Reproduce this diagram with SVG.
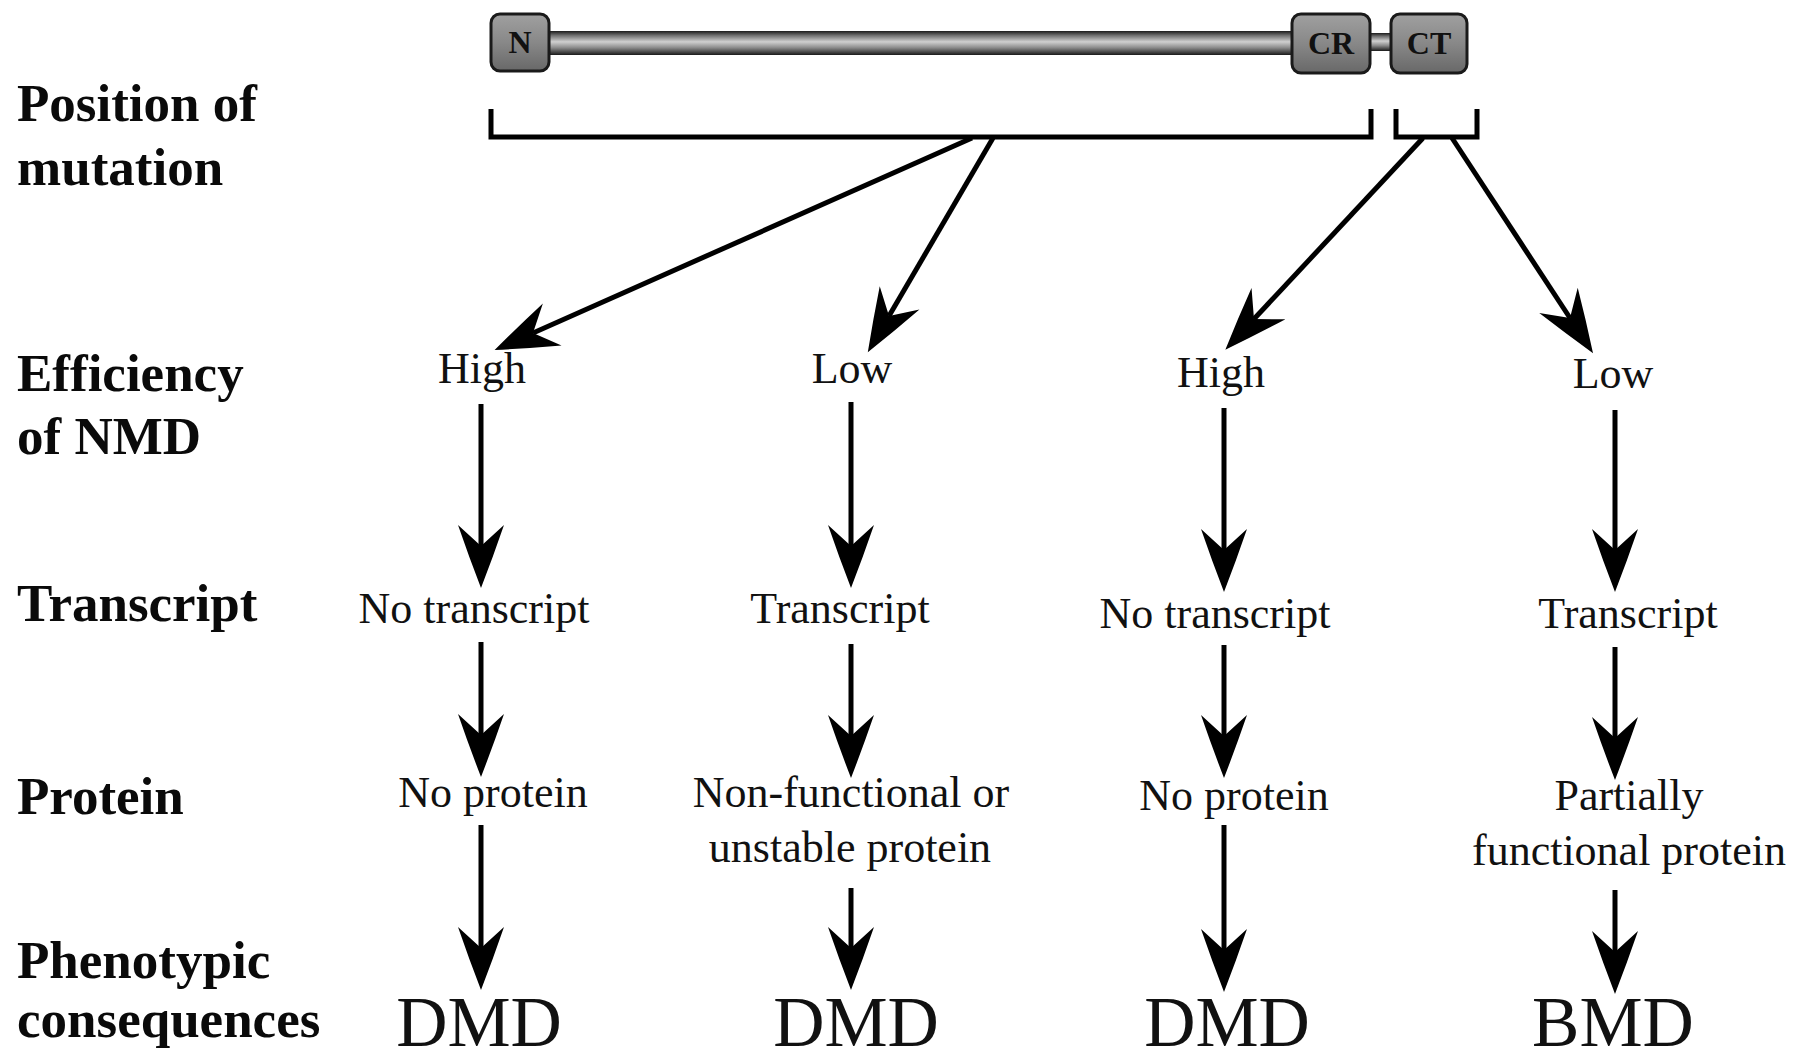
<svg xmlns="http://www.w3.org/2000/svg" width="1800" height="1059" viewBox="0 0 1800 1059">
<defs>
<linearGradient id="tube" x1="0" y1="0" x2="0" y2="1">
<stop offset="0" stop-color="#1a1a1a"/>
<stop offset="0.18" stop-color="#6e6e6e"/>
<stop offset="0.45" stop-color="#d0d0d0"/>
<stop offset="0.7" stop-color="#8a8a8a"/>
<stop offset="1" stop-color="#1a1a1a"/>
</linearGradient>
<linearGradient id="box" x1="0" y1="0" x2="0" y2="1">
<stop offset="0" stop-color="#a0a0a0"/>
<stop offset="0.5" stop-color="#888"/>
<stop offset="1" stop-color="#686868"/>
</linearGradient>
<marker id="ah" markerUnits="userSpaceOnUse" markerWidth="64" markerHeight="48" viewBox="0 0 64 48" refX="21" refY="24" orient="auto">
<path d="M63,24 Q32,12 0,1 L21,24 L0,47 Q32,36 63,24 Z" fill="#000"/>
</marker>
</defs>
<style>
.lab{font-family:"Liberation Serif","Times New Roman",serif;font-weight:bold;font-size:53px;fill:#0a0a0a}
.t{font-family:"Liberation Serif","Times New Roman",serif;font-size:44px;fill:#111;text-anchor:middle}
.big{font-family:"Liberation Serif","Times New Roman",serif;font-size:71px;fill:#111;text-anchor:middle}
.dom{fill:url(#box);stroke:#1a1a1a;stroke-width:3}
.domt{font-family:"Liberation Serif","Times New Roman",serif;font-weight:bold;font-size:32px;fill:#111;text-anchor:middle}
.br{fill:none;stroke:#000;stroke-width:5}
.ar{fill:none;stroke:#000;stroke-width:5;marker-end:url(#ah)}
</style>
<rect width="1800" height="1059" fill="#fff"/>

<g id="protein-bar">
<rect x="545" y="31" width="752" height="24" fill="url(#tube)"/>
<rect x="1366" y="33" width="28" height="18" fill="url(#tube)"/>
<g id="domain-N"><rect class="dom" x="491" y="14" width="58" height="57" rx="9"/><text class="domt" x="520" y="53">N</text></g>
<g id="domain-CR"><rect class="dom" x="1292" y="14" width="78" height="59" rx="9"/><text class="domt" x="1331" y="54">CR</text></g>
<g id="domain-CT"><rect class="dom" x="1391" y="14" width="76" height="59" rx="9"/><text class="domt" x="1429" y="54">CT</text></g>
</g>

<g id="row-labels">
<text class="lab" x="17" y="121">Position of</text>
<text class="lab" x="17" y="185">mutation</text>
<text class="lab" x="17" y="391">Efficiency</text>
<text class="lab" x="17" y="454">of NMD</text>
<text class="lab" x="17" y="621">Transcript</text>
<text class="lab" x="17" y="814">Protein</text>
<text class="lab" x="17" y="978">Phenotypic</text>
<text class="lab" x="17" y="1037">consequences</text>
</g>

<g id="bracket-main"><path class="br" d="M491,109 V137 H1371 V109"/></g>
<g id="bracket-ct"><path class="br" d="M1396,109 V137 H1477 V109"/></g>

<g id="col1">
<g id="n-high1"><text class="t" x="482" y="383">High</text></g>
<g id="n-notx1"><text class="t" x="474" y="623">No transcript</text></g>
<g id="n-noprot1"><text class="t" x="493" y="807">No protein</text></g>
<g id="n-dmd1"><text class="big" x="479" y="1046">DMD</text></g>
</g>
<g id="col2">
<g id="n-low2"><text class="t" x="852" y="383">Low</text></g>
<g id="n-tx2"><text class="t" x="840" y="623">Transcript</text></g>
<g id="n-nonfunc2"><text class="t" x="851" y="807">Non-functional or</text><text class="t" x="850" y="862">unstable protein</text></g>
<g id="n-dmd2"><text class="big" x="856" y="1046">DMD</text></g>
</g>
<g id="col3">
<g id="n-high3"><text class="t" x="1221" y="387">High</text></g>
<g id="n-notx3"><text class="t" x="1215" y="628">No transcript</text></g>
<g id="n-noprot3"><text class="t" x="1234" y="810">No protein</text></g>
<g id="n-dmd3"><text class="big" x="1227" y="1046">DMD</text></g>
</g>
<g id="col4">
<g id="n-low4"><text class="t" x="1613" y="388">Low</text></g>
<g id="n-tx4"><text class="t" x="1628" y="628">Transcript</text></g>
<g id="n-partial4"><text class="t" x="1629" y="810">Partially</text><text class="t" x="1629" y="865">functional protein</text></g>
<g id="n-bmd4"><text class="big" x="1613" y="1046">BMD</text></g>
</g>

<g id="connectors">
<line class="ar" x1="972" y1="138" x2="533" y2="333"/>
<line class="ar" x1="993" y1="138" x2="889" y2="316"/>
<line class="ar" x1="1423" y1="138" x2="1254" y2="319"/>
<line class="ar" x1="1452" y1="138" x2="1570" y2="318"/>

<line class="ar" x1="481" y1="404" x2="481" y2="546"/>
<line class="ar" x1="851" y1="402" x2="851" y2="546"/>
<line class="ar" x1="1224" y1="408" x2="1224" y2="550"/>
<line class="ar" x1="1615" y1="410" x2="1615" y2="550"/>

<line class="ar" x1="481" y1="642" x2="481" y2="735"/>
<line class="ar" x1="851" y1="644" x2="851" y2="736"/>
<line class="ar" x1="1224" y1="645" x2="1224" y2="736"/>
<line class="ar" x1="1615" y1="647" x2="1615" y2="738"/>

<line class="ar" x1="481" y1="825" x2="481" y2="948"/>
<line class="ar" x1="851" y1="888" x2="851" y2="948"/>
<line class="ar" x1="1224" y1="825" x2="1224" y2="950"/>
<line class="ar" x1="1615" y1="890" x2="1615" y2="952"/>
</g>
</svg>
